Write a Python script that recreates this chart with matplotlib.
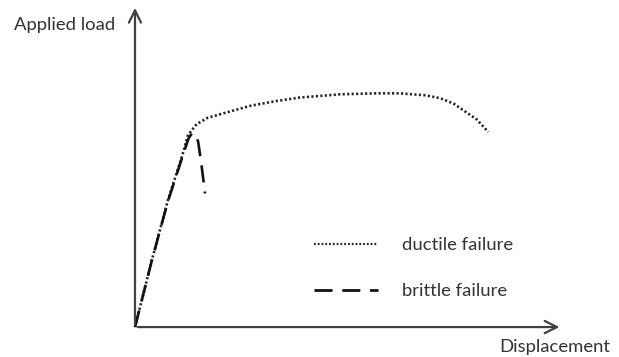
import matplotlib
matplotlib.use("Agg")
import matplotlib.pyplot as plt
from matplotlib.lines import Line2D

plt.rcParams['font.family'] = ['Lato', 'DejaVu Sans']

# load-displacement curves (arbitrary units)
ductile_x = [0, 0.4, 0.77, 1.1, 1.24, 1.44, 1.7, 2.15, 2.69, 3.3, 3.86, 4.8, 5.6, 6.2, 6.8, 7.14, 7.45, 7.68, 8.0, 8.27]
ductile_y = [0, 2.1, 3.94, 5.3, 5.96, 6.3, 6.5, 6.67, 6.87, 7.02, 7.13, 7.23, 7.26, 7.26, 7.2, 7.11, 6.95, 6.74, 6.45, 6.06]

brittle_x = [0, 0.4, 0.77, 1.1, 1.25, 1.33, 1.43, 1.48, 1.56, 1.64]
brittle_y = [0, 2.1, 3.9, 5.25, 5.85, 6.02, 5.95, 5.75, 5.0, 4.15]

labels = ["ductile failure", "brittle failure"]

fig = plt.figure(figsize=(6.19, 3.57), dpi=100)
ax = fig.add_axes([0, 0, 1, 1])
ax.set_xlim(-3.16, 11.33)
ax.set_ylim(-0.93, 10.16)
ax.axis('off')

axis_col = '#404040'
ax.annotate('', xy=(10.0, 0), xytext=(0, 0),
            arrowprops=dict(arrowstyle='->', color=axis_col, lw=1.6, mutation_scale=22))
ax.annotate('', xy=(0, 10.0), xytext=(0, 0),
            arrowprops=dict(arrowstyle='->', color=axis_col, lw=1.6, mutation_scale=22))

ax.plot(ductile_x, ductile_y, color='#222222', lw=1.9, linestyle=(0, (0.8, 0.9)))
ax.plot(brittle_x, brittle_y, color='#111111', lw=1.9, linestyle=(0, (6.5, 3.5)))

txt_col = '#333333'
ax.text(0.105, 0.93, "Applied load", transform=ax.transAxes, fontsize=13.3,
        color=txt_col, ha='center', va='center')
ax.text(0.897, 0.028, "Displacement", transform=ax.transAxes, fontsize=13.3,
        color=txt_col, ha='center', va='center')

handles = [Line2D([], [], color='#222222', lw=1.6, linestyle=(0, (0.8, 0.9))),
           Line2D([], [], color='#111111', lw=2.0, linestyle=(0, (6.5, 3.5)))]
leg = ax.legend(handles, labels, loc='upper left', bbox_to_anchor=(0.495, 0.356),
                frameon=False, fontsize=13.3, handlelength=3.5, handletextpad=1.25,
                labelspacing=1.62, borderaxespad=0)
for t in leg.get_texts():
    t.set_color(txt_col)

fig.savefig("out.png", dpi=100, facecolor='white')
